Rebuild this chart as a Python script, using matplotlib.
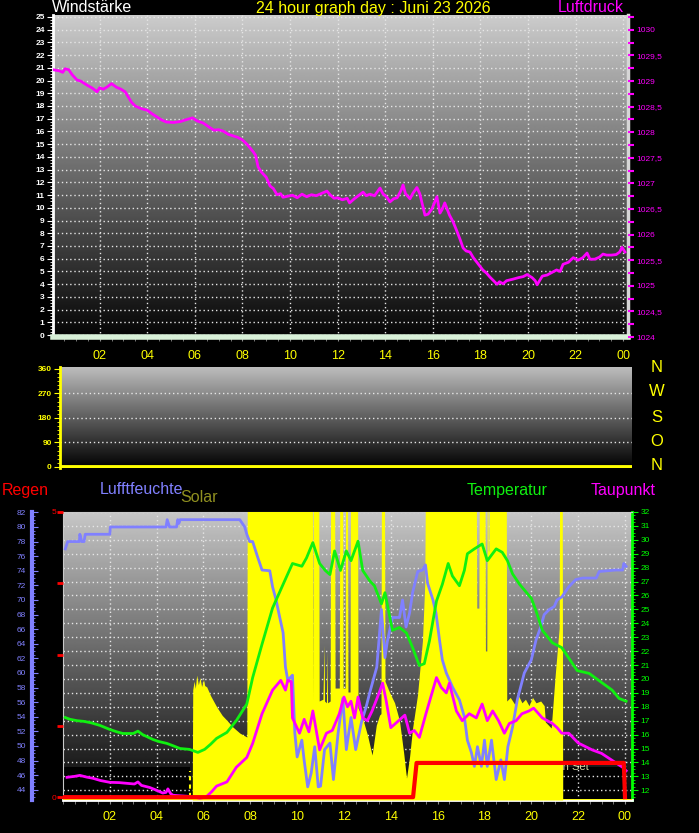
import numpy as np
import matplotlib.pyplot as plt
from matplotlib.ticker import MultipleLocator

plt.rcParams['font.family'] = ['Liberation Sans', 'DejaVu Sans']

# ---- data ----
HOUR_TICKS = [2, 4, 6, 8, 10, 12, 14, 16, 18, 20, 22, 24]
HOUR_LABELS = ['02', '04', '06', '08', '10', '12', '14', '16', '18', '20', '22', '00']

# Luftdruck (hPa)
p_hours = [0.05, 0.3, 0.45, 0.55, 0.7, 0.85, 1.05, 1.2, 1.47, 1.7, 1.89, 2.0, 2.15, 2.3, 2.5,
           2.7, 2.9, 3.07, 3.2, 3.35, 3.5, 3.75, 4.0, 4.2, 4.4, 4.6, 4.8, 5.1, 5.4, 5.6, 5.9,
           6.1, 6.35, 6.6, 6.8, 7.0, 7.2, 7.4, 7.6, 7.8, 8.0, 8.2, 8.45, 8.55, 8.66, 8.8, 9.0,
           9.16, 9.3, 9.45, 9.6, 9.7, 9.9, 10.1, 10.3, 10.5, 10.7, 10.9, 11.1, 11.3, 11.55,
           11.7, 11.85, 12.0, 12.2, 12.4, 12.5, 12.7, 13.07, 13.2, 13.36, 13.55, 13.78, 13.9,
           14.07, 14.2, 14.35, 14.5, 14.65, 14.75, 14.85, 15.04, 15.15, 15.33, 15.45, 15.67,
           15.8, 15.96, 16.17, 16.3, 16.4, 16.5, 16.7, 16.85, 17.0, 17.15, 17.27, 17.4, 17.56,
           17.7, 17.85, 18.1, 18.25, 18.4, 18.55, 18.7, 18.8, 18.95, 19.1, 19.37, 19.6, 19.8,
           19.96, 20.17, 20.3, 20.38, 20.6, 20.8, 21.0, 21.2, 21.35, 21.47, 21.7, 21.9, 22.1,
           22.3, 22.48, 22.6, 22.8, 23.0, 23.15, 23.3, 23.5, 23.7, 23.85, 23.95, 24.07]
p_values = [1029.22, 1029.20, 1029.17, 1029.24, 1029.22, 1029.12, 1029.02, 1029.00, 1028.92,
            1028.86, 1028.79, 1028.87, 1028.84, 1028.88, 1028.95, 1028.88, 1028.84, 1028.79,
            1028.69, 1028.58, 1028.51, 1028.46, 1028.43, 1028.36, 1028.30, 1028.24, 1028.20,
            1028.19, 1028.21, 1028.24, 1028.28, 1028.22, 1028.18, 1028.10, 1028.04, 1028.05,
            1028.02, 1027.96, 1027.93, 1027.90, 1027.85, 1027.76, 1027.62, 1027.55, 1027.32,
            1027.22, 1027.12, 1026.95, 1026.90, 1026.78, 1026.80, 1026.73, 1026.75, 1026.77,
            1026.72, 1026.79, 1026.74, 1026.78, 1026.76, 1026.80, 1026.85, 1026.77, 1026.71,
            1026.72, 1026.68, 1026.71, 1026.62, 1026.70, 1026.83, 1026.76, 1026.79, 1026.76,
            1026.91, 1026.80, 1026.73, 1026.64, 1026.70, 1026.72, 1026.85, 1026.97, 1026.80,
            1026.70, 1026.80, 1026.92, 1026.80, 1026.38, 1026.40, 1026.50, 1026.74, 1026.42,
            1026.50, 1026.62, 1026.38, 1026.25, 1026.08, 1025.90, 1025.74, 1025.68, 1025.66,
            1025.55, 1025.46, 1025.31, 1025.25, 1025.17, 1025.10, 1025.03, 1025.08, 1025.04,
            1025.10, 1025.13, 1025.16, 1025.18, 1025.22, 1025.16, 1025.10, 1025.02, 1025.19,
            1025.21, 1025.26, 1025.31, 1025.28, 1025.42, 1025.46, 1025.55, 1025.50, 1025.55,
            1025.64, 1025.52, 1025.52, 1025.56, 1025.62, 1025.60, 1025.60, 1025.61, 1025.66,
            1025.75, 1025.66]

# Windrichtung (Grad)
d_hours = [0.0, 24.3]
d_values = [0, 0]

# Luftfeuchte (%)
h_hours = [0.1, 0.2, 0.7, 0.72, 0.8, 0.9, 0.95, 2.0, 2.02, 4.4, 4.45, 4.55, 4.85, 4.9, 4.95,
           5.0, 7.55, 7.76, 7.85, 7.97, 8.1, 8.3, 8.5, 8.83, 8.95, 9.1, 9.25, 9.4, 9.5, 9.6,
           9.8, 9.9, 10.0, 10.2, 10.3, 10.45, 10.6, 10.75, 10.9, 11.0, 11.17, 11.4, 11.55,
           11.75, 11.95, 12.1, 12.3, 12.5, 12.75, 12.95, 13.1, 13.4, 13.6, 13.75, 13.85, 14.07,
           14.37, 14.5, 14.65, 14.8, 14.93, 15.15, 15.35, 15.48, 15.57, 15.8, 15.93, 16.08,
           16.2, 16.37, 16.63, 16.93, 17.14, 17.27, 17.44, 17.57, 17.7, 17.87, 18.0, 18.12,
           18.3, 18.5, 18.7, 18.85, 19.0, 19.2, 19.4, 19.7, 20.0, 20.2, 20.4, 20.55, 20.77,
           20.98, 21.1, 21.3, 21.6, 21.9, 22.2, 22.77, 22.9, 23.6, 23.9, 23.95, 24.05]
h_values = [77.0, 78, 78, 79, 78, 78, 79, 79, 80, 80, 81, 80, 80, 81, 80.5, 81, 81, 80, 79,
            78, 78, 76, 74.1, 74, 71.8, 70, 67.7, 65.5, 60.8, 59, 59.7, 51.8, 48.5, 50.8, 48,
            44.4, 46.3, 49.9, 44.4, 44.5, 49.5, 50.4, 45.4, 51.8, 56.5, 49.5, 53.9, 49.5, 53.3,
            55.4, 57.3, 60.8, 68.7, 62.1, 64.3, 67.6, 67.6, 70, 66.3, 68.2, 71, 73.9, 74.1, 74.8,
            72.3, 70, 68.2, 64.5, 61.8, 60, 58.1, 56.3, 54, 50.8, 49.1, 47.2, 49.9, 47.2, 50.8,
            47.2, 50.8, 45.4, 48.1, 45.4, 49.9, 52.6, 56.3, 60, 61.8, 64.5, 66.3, 68, 68.7,
            69.1, 70, 70.4, 71.8, 72.8, 73, 73, 73.9, 74.1, 74.1, 75, 74.6]

# Temperatur (C)
t_hours = [0.09, 0.3, 0.6, 0.9, 1.2, 1.58, 2.0, 2.3, 2.56, 3.0, 3.2, 3.4, 3.84, 4.1, 4.43,
           4.7, 5.0, 5.4, 5.76, 6.05, 6.3, 6.56, 7.0, 7.4, 7.85, 8.1, 8.5, 8.95, 9.4, 9.8,
           10.2, 10.4, 10.67, 10.96, 11.2, 11.4, 11.6, 11.85, 12.1, 12.3, 12.6, 12.8, 13.1,
           13.3, 13.6, 13.75, 14.07, 14.37, 14.67, 14.93, 15.22, 15.43, 15.65, 15.95, 16.2,
           16.45, 16.63, 16.93, 17.14, 17.27, 17.57, 17.9, 18.12, 18.5, 18.76, 18.98, 19.2,
           19.5, 20.0, 20.2, 20.47, 20.9, 21.3, 21.6, 21.96, 22.47, 23.0, 23.45, 23.75, 24.05]
t_values = [17.23, 17.1, 17.0, 16.95, 16.85, 16.66, 16.37, 16.2, 16.08, 16.08, 16.25, 16.0,
            15.65, 15.5, 15.37, 15.2, 15.0, 14.94, 14.72, 14.94, 15.3, 15.73, 16.16, 17.0,
            18.2, 20.1, 22.5, 25.1, 26.8, 28.3, 28.1, 28.7, 29.8, 28.3, 27.8, 27.5, 29.2, 27.8,
            29.2, 28.5, 29.9, 27.8, 27.05, 26.7, 25.4, 26.2, 23.5, 23.7, 23.3, 22.25, 20.96,
            21.1, 22.75, 25.6, 26.8, 28.3, 27.4, 26.7, 27.8, 29.0, 29.35, 29.7, 28.5, 29.35,
            29.1, 28.5, 27.55, 26.8, 25.8, 24.9, 23.5, 22.6, 22.25, 21.5, 20.6, 20.4, 19.75,
            19.2, 18.6, 18.4]

# Taupunkt (C)
dp_hours = [0.17, 0.5, 0.72, 1.0, 1.28, 1.6, 2.0, 2.4, 2.72, 3.05, 3.2, 3.35, 3.7, 4.0, 4.26,
            4.4, 4.48, 4.6, 4.7, 5.0, 5.3, 5.6, 5.84, 6.1, 6.35, 6.56, 7.0, 7.4, 7.85, 8.1,
            8.5, 8.95, 9.3, 9.5, 9.6, 9.75, 9.8, 10.1, 10.3, 10.5, 10.67, 10.96, 11.25, 11.5,
            11.8, 12.0, 12.15, 12.3, 12.45, 12.6, 12.8, 13.0, 13.2, 13.5, 13.65, 13.8, 14.0,
            14.2, 14.6, 14.8, 15.0, 15.22, 15.5, 15.95, 16.15, 16.37, 16.5, 16.8, 17.05,
            17.35, 17.65, 17.9, 18.12, 18.35, 18.6, 18.85, 19.06, 19.35, 19.6, 19.9, 20.1,
            20.47, 20.9, 21.1, 21.3, 21.6, 22.0, 22.6, 23.0, 23.45, 23.9, 24.05]
dp_values = [12.93, 13.0, 13.07, 12.95, 12.86, 12.7, 12.57, 12.55, 12.5, 12.45, 12.6, 12.35,
             12.2, 12.0, 11.8, 11.85, 12.1, 11.75, 11.64, 11.6, 11.57, 11.5, 11.43, 11.5, 11.9,
             12.3, 12.6, 13.65, 14.36, 15.37, 17.5, 19.2, 19.9, 19.2, 19.9, 19.8, 17.2, 16.1,
             17.1, 16.2, 17.7, 14.9, 16.1, 16.3, 17.5, 18.7, 18.0, 18.4, 17.2, 18.7, 17.2, 17.0,
             17.7, 19.0, 19.7, 18.45, 16.5, 16.8, 17.4, 16.1, 16.3, 15.8, 17.5, 20.1, 19.4,
             19.0, 19.7, 17.7, 17.0, 17.5, 17.2, 18.2, 17.0, 17.7, 17.0, 16.1, 16.8, 17.0, 17.5,
             17.7, 17.9, 17.2, 16.8, 16.5, 16.1, 16.1, 15.4, 14.9, 14.65, 14.15, 13.65, 13.4]

# Regen (mm)
r_hours = [0.0, 14.95, 15.1, 23.95, 24.0]
r_values = [0.0, 0.0, 0.6, 0.6, 0.0]

# Solar (W/m2), values above 800 run off the top
s_hours = [0.0, 5.52, 5.54, 5.6, 5.65, 5.71, 5.78, 5.85, 5.92, 6.0, 6.05, 6.14, 6.3, 6.57,
           6.8, 6.99, 7.25, 7.55, 7.85, 7.87, 10.65, 10.67, 10.69, 10.92, 10.94, 11.1, 11.15,
           11.17, 11.25, 11.28, 11.30, 11.41, 11.43, 11.60, 11.62, 11.80, 11.82, 11.94, 11.96,
           12.05, 12.07, 12.15, 12.17, 12.26, 12.28, 12.58, 12.60, 12.79, 13.0, 13.2, 13.38,
           13.52, 13.58, 13.60, 13.73, 13.75, 13.94, 14.16, 14.37, 14.55, 14.67, 14.8, 14.93,
           15.14, 15.35, 15.45, 15.48, 17.65, 17.67, 17.76, 17.78, 18.02, 18.04, 18.10, 18.12,
           18.14, 18.16, 18.19, 18.21, 18.93, 18.95, 19.1, 19.3, 19.45, 19.6, 19.75, 19.9,
           20.05, 20.2, 20.4, 20.55, 20.6, 20.85, 21.02, 21.19, 21.21, 21.32, 21.34, 24.3]
s_values = [0, 0, 306, 330, 310, 347, 320, 340, 315, 335, 318, 314, 290, 258, 235, 222, 203,
            186, 175, 900, 900, 275, 900, 900, 275, 280, 430, 275, 270, 414, 270, 275, 900, 900,
            311, 311, 900, 900, 311, 311, 900, 900, 300, 300, 900, 900, 256, 228, 181, 125, 208,
            236, 240, 900, 900, 330, 300, 270, 220, 130, 61, 120, 200, 292, 442, 600, 900, 900,
            533, 533, 900, 900, 414, 414, 900, 900, 692, 692, 900, 900, 275, 285, 265, 290, 270,
            280, 262, 285, 270, 275, 262, 217, 200, 347, 478, 900, 900, 0, 0]

SUNRISE = 5.42
SUNSET = 21.4

# ---- figure ----
W, H = 699, 833
fig = plt.figure(figsize=(W / 100, H / 100), dpi=100, facecolor='black')


def box(l, t, r, b):
    return [l / W, 1 - b / H, (r - l) / W, (b - t) / H]


def ftext(x, y, s, **kw):
    fig.text(x / W, 1 - y / H, s, **kw)


def gradient(ax, top, bottom):
    g = np.linspace(top, bottom, 256).reshape(-1, 1)
    ax.imshow(g, cmap='gray', vmin=0, vmax=1, aspect='auto', extent=(0, 1, 0, 1),
              transform=ax.transAxes, zorder=0, interpolation='bilinear')


def hide_spines(ax):
    for s in ax.spines.values():
        s.set_visible(False)


GRID = dict(color='#e6e6e6', linestyle=(0, (1, 2)), linewidth=1)

# ---- top panel: Windstaerke / Luftdruck ----
ax1 = fig.add_axes(box(53, 15, 628, 337))
gradient(ax1, 0.80, 0.02)
ax1.set_xlim(0.04, 24.2)
ax1.set_ylim(-0.15, 25.15)
ax1.set_yticks(range(0, 26))
ax1.yaxis.set_minor_locator(MultipleLocator(0.25))
ax1.tick_params(axis='y', which='major', colors='white', labelsize=6, length=4, pad=2)
ax1.tick_params(axis='y', which='minor', colors='white', length=2)
for lbl in ax1.get_yticklabels():
    lbl.set_fontweight('bold')
ax1.set_xticks(HOUR_TICKS)
ax1.set_xticklabels(HOUR_LABELS)
ax1.xaxis.set_minor_locator(MultipleLocator(0.5))
ax1.tick_params(axis='x', which='both', colors='#8a8a8a', length=3, labelcolor='#ffff00',
                labelsize=9, pad=6.5)
ax1.grid(True, which='major', **GRID)
ax1.spines['left'].set_color('white')
ax1.spines['left'].set_linewidth(2)
ax1.spines['bottom'].set_color('#d8f0d8')
ax1.spines['bottom'].set_linewidth(4)
ax1.spines['top'].set_visible(False)
ax1.spines['right'].set_color('#d6d6d6')
ax1.spines['right'].set_linewidth(2.5)

ax1r = ax1.twinx()
hide_spines(ax1r)
ax1r.set_ylim(1024.0, 1030.29)
ax1r.plot(p_hours, p_values, color='#ff00ff', lw=2)
p_ticks = np.arange(1024, 1030.01, 0.5)
ax1r.set_yticks(p_ticks)
ax1r.set_yticklabels([f'{v:g}'.replace('.', ',') for v in p_ticks])
ax1r.yaxis.set_minor_locator(MultipleLocator(0.25))
ax1r.tick_params(axis='y', which='both', colors='#ff00ff', labelsize=6, length=4, width=1.5,
                 pad=2)

ftext(52, 8, 'Windstärke', color='white', fontsize=11.5, ha='left', va='center')
ftext(373, 8, '24 hour graph day : Juni 23 2026', color='#ffff00', fontsize=11.5,
      ha='center', va='center')
ftext(624, 8, 'Luftdruck', color='#ff00ff', fontsize=11.5, ha='right', va='center')

# ---- middle panel: Windrichtung ----
axm = fig.add_axes(box(60, 367, 632, 468))
gradient(axm, 0.74, 0.0)
axm.set_xlim(0, 24.3)
axm.set_ylim(-4, 367)
axm.plot(d_hours, d_values, color='#ffff00', lw=3.5, solid_capstyle='butt')
for v in (90, 180, 270):
    axm.axhline(v, **GRID)
axm.set_yticks([0, 90, 180, 270, 360])
axm.yaxis.set_minor_locator(MultipleLocator(15))
axm.tick_params(axis='y', which='major', colors='#ffff00', labelsize=6, length=4, pad=2)
axm.tick_params(axis='y', which='minor', colors='#ffff00', length=2)
for lbl in axm.get_yticklabels():
    lbl.set_fontweight('bold')
axm.set_xticks([])
hide_spines(axm)
axm.spines['left'].set_visible(True)
axm.spines['left'].set_color('#ffff00')
axm.spines['left'].set_linewidth(2)

for letter, y in zip(['N', 'W', 'S', 'O', 'N'], [367, 392, 417, 442, 466]):
    ftext(657, y, letter, color='#ffff00', fontsize=12, ha='center', va='center')

# ---- bottom panel ----
axb = fig.add_axes(box(63, 512, 632, 800))
gradient(axb, 0.78, 0.02)
axb.set_xlim(0, 24.3)
axb.set_ylim(11.3, 32.0)
axb.axvspan(0, SUNRISE, ymin=0, ymax=0.115, color='black', zorder=0.5, lw=0)
axb.axvspan(SUNSET, 24.0, ymin=0, ymax=0.115, color='black', zorder=0.5, lw=0)
axb.axvline(SUNRISE, ymin=0.01, ymax=0.1, color='#ffff00', lw=1.5, ls=(0, (2, 2)))
axb.grid(True, which='major', **GRID)
axb.set_xticks(HOUR_TICKS)
axb.set_xticklabels(HOUR_LABELS)
axb.xaxis.set_minor_locator(MultipleLocator(0.5))
axb.tick_params(axis='x', which='both', colors='#8a8a8a', length=3, labelcolor='#ffff00',
                labelsize=9, pad=5)
axb.set_yticks(range(12, 33))
axb.yaxis.set_minor_locator(MultipleLocator(0.25))
axb.text(20.75, 0.115, 'Sun Set', transform=axb.get_xaxis_transform(), color='#d8d8a0',
         fontsize=8, ha='left', va='center', zorder=1)
axb.spines['left'].set_color('#c8c8c8')
axb.spines['top'].set_color('#c8c8c8')
axb.spines['bottom'].set_color('white')
axb.spines['bottom'].set_linewidth(2)
axb.spines['right'].set_color('#00ff00')
axb.spines['right'].set_linewidth(2)

# solar fill
axs = axb.twinx()
hide_spines(axs)
axs.set_ylim(0, 800)
axs.fill_between(s_hours, 0, s_values, color='#ffff00', lw=0)
axs.axhline(0, color='#ffff00', lw=2)
axs.set_yticks([])

# humidity
axh = axb.twinx()
hide_spines(axh)
axh.set_ylim(42.6, 82.05)
axh.plot(h_hours, h_values, color='#8080ff', lw=2)
axh.yaxis.tick_left()
axh.spines['left'].set_visible(True)
axh.spines['left'].set_position(('outward', 22.5))
axh.spines['left'].set_color('#8080ff')
axh.spines['left'].set_linewidth(3)
axh.set_yticks(range(44, 83, 2))
axh.yaxis.set_minor_locator(MultipleLocator(0.5))
axh.tick_params(axis='y', which='major', colors='#8080ff', direction='in', length=4,
                labelsize=6, pad=4)
axh.tick_params(axis='y', which='minor', colors='#8080ff', direction='in', length=2)

# temperature and dew point
axt = axb.twinx()
hide_spines(axt)
axt.set_ylim(axb.get_ylim())
axt.set_yticks([])
axt.plot(t_hours, t_values, color='#10f010', lw=2)
axt.plot(dp_hours, dp_values, color='#ff00ff', lw=2)

# rain
axr = axb.twinx()
hide_spines(axr)
axr.set_ylim(-0.05, 5.0)
axr.plot(r_hours, r_values, color='#ff0000', lw=3)
axr.yaxis.tick_left()
axr.set_yticks([0, 1.25, 2.5, 3.75, 5])
axr.set_yticklabels(['0', '', '', '', '5'])
axr.tick_params(axis='y', colors='#ff0000', length=4, width=2, labelsize=6, pad=1)

axb.yaxis.tick_right()
axb.tick_params(axis='y', which='major', colors='#00ff00', length=4, labelsize=6, pad=2)
axb.tick_params(axis='y', which='minor', colors='#00ff00', length=2)

ftext(2, 490, 'Regen', color='#ff0000', fontsize=11.5, ha='left', va='center')
ftext(100, 490, 'Lufftfeuchte', color='#8080ff', fontsize=11.5, ha='left', va='center')
ftext(180, 498, 'Solar', color='#909020', fontsize=11.5, ha='left', va='center')
ftext(467, 490, 'Temperatur', color='#10f010', fontsize=11.5, ha='left', va='center')
ftext(591, 490, 'Taupunkt', color='#ff00ff', fontsize=11.5, ha='left', va='center')

fig.savefig('out.png', dpi=100, facecolor='black')
